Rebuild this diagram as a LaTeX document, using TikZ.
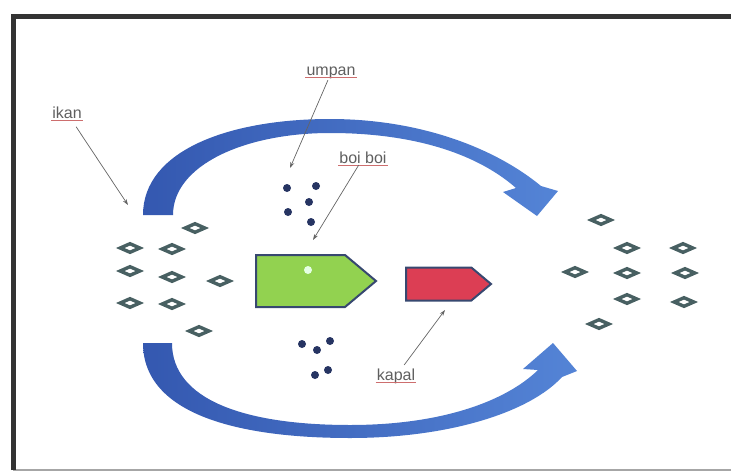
\documentclass[tikz,border=0pt]{standalone}
\usepackage{fontspec}
\setmainfont{Liberation Sans}
\usetikzlibrary{shapes.geometric,shapes.symbols,arrows.meta}

\definecolor{arcblue}{RGB}{52,88,176}
\definecolor{arclight}{RGB}{84,132,214}
\definecolor{fishline}{RGB}{72,96,98}
\definecolor{dotcol}{RGB}{38,52,98}
\definecolor{boatgreen}{RGB}{146,210,80}
\definecolor{boatred}{RGB}{220,62,84}
\definecolor{boatline}{RGB}{55,72,112}
\definecolor{txtgrey}{RGB}{95,95,95}
\definecolor{ulred}{RGB}{205,110,110}
\definecolor{leadgrey}{RGB}{100,100,100}

\tikzset{
  fish/.style={diamond, draw=fishline, line width=3.4pt, fill=white, minimum width=21pt, minimum height=10pt, inner sep=0pt},
  bait/.style={circle, fill=dotcol, minimum size=8pt, inner sep=0pt},
  boat/.style={signal, signal to=east, signal pointer angle=80, draw=boatline, line width=2pt, inner sep=0pt, anchor=west},
  tag/.style={font=\fontsize{16}{16}\selectfont, text=txtgrey, inner sep=1pt},
  lead/.style={draw=leadgrey, line width=0.7pt, -{Stealth[length=6pt,width=4pt]}}
}

\begin{document}
\begin{tikzpicture}[x=1pt, y=-1pt]
  \useasboundingbox (0,0) rectangle (731,472);
  % frame
  \draw[line width=1.5pt, black!35] (13,470) -- (731,470);
  \draw[line width=5pt, black!80] (13,470) -- (13,16) -- (731,16);

  % top curved arrow
  \shade[left color=arcblue, right color=arclight]
    (143,215) .. controls (143,150) and (230,119) .. (330,119)
    .. controls (420,119) and (495,148) .. (541,186)
    -- (558,191) -- (537,216) -- (503,192) -- (516,188)
    .. controls (475,152) and (410,133) .. (330,133)
    .. controls (245,133) and (173,165) .. (173,215) -- cycle;
  % bottom curved arrow
  \shade[left color=arcblue, right color=arclight]
    (143,343) .. controls (143,415) and (240,438) .. (350,438)
    .. controls (450,438) and (530,412) .. (562,377)
    -- (577,371) -- (553,343) -- (523,369) -- (538,370)
    .. controls (505,402) and (440,425) .. (350,425)
    .. controls (245,425) and (172,400) .. (172,343) -- cycle;

  % fish on the left
  \foreach \x/\y [count=\i] in {195/228, 130/248, 172/249, 130/271, 172/277,
      220/281, 130/303, 172/304, 199/331} {
    \node[fish] (fl\i) at (\x,\y) {};
  }
  % fish on the right
  \foreach \x/\y [count=\i] in {601/220, 627/248, 683/248, 575/272, 627/273,
      685/273, 627/299, 684/302, 599/324} {
    \node[fish] (fr\i) at (\x,\y) {};
  }

  % bait above and below
  \foreach \x/\y [count=\i] in {287/188, 316/186, 309/202, 288/212, 311/222} {
    \node[bait] (ba\i) at (\x,\y) {};
  }
  \foreach \x/\y [count=\i] in {302/344, 317/350, 330/341, 315/375, 328/370} {
    \node[bait] (bb\i) at (\x,\y) {};
  }

  % boats
  \node[boat, fill=boatgreen, minimum width=120pt, minimum height=52pt] (boiboi) at (255,281) {};
  \node[circle, fill=green!10, minimum size=8pt, inner sep=0pt] (lamp) at (308,270) {};
  \node[boat, fill=boatred, minimum width=85pt, minimum height=33pt] (kapal) at (405,284) {};

  % labels
  \node[tag] (lbikan) at (67,113) {ikan};
  \node[tag] (lbumpan) at (331,73) {umpan};
  \node[tag] (lbboi) at (363,158) {boi boi};
  \node[tag] (lbkapal) at (396,376) {kapal};
  \foreach \n in {lbikan, lbumpan, lbboi, lbkapal} {
    \draw[ulred, line width=0.6pt] ([yshift=-2pt]\n.base west) -- ([yshift=-2pt]\n.base east);
  }

  % pointers
  \coordinate (ptikan) at (128,205);
  \coordinate (ptumpan) at (290,168);
  \coordinate (ptboi) at (313,240);
  \coordinate (ptkapal) at (445,310);
  \draw[lead, shorten <=8pt] (lbikan) -- (ptikan);
  \draw[lead] (lbumpan) -- (ptumpan);
  \draw[lead] (lbboi) -- (ptboi);
  \draw[lead, shorten <=3pt] (lbkapal) -- (ptkapal);
\end{tikzpicture}
\end{document}
